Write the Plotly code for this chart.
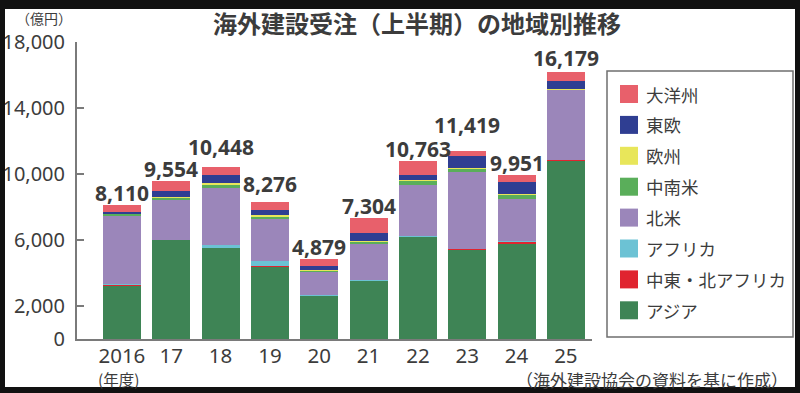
import plotly.graph_objects as go

# ---- data ----
years = ["2016", "17", "18", "19", "20", "21", "22", "23", "24", "25"]
totals = [8110, 9554, 10448, 8276, 4879, 7304, 10763, 11419, 9951, 16179]
total_labels = ["8,110", "9,554", "10,448", "8,276", "4,879", "7,304", "10,763", "11,419", "9,951", "16,179"]

asia    = [3250, 6000, 5530, 4380, 2650, 3520, 6200, 5440, 5780, 10840]
mena    = [60, 10, 10, 20, 10, 20, 20, 20, 130, 10]
africa  = [20, 20, 130, 330, 30, 40, 20, 20, 20, 10]
n_am    = [4100, 2400, 3540, 2520, 1390, 2180, 3100, 4650, 2570, 4250]
cs_am   = [150, 130, 110, 200, 80, 130, 240, 180, 280, 40]
europe  = [40, 40, 160, 60, 20, 40, 40, 30, 30, 30]
e_eur   = [100, 400, 470, 330, 270, 490, 290, 750, 690, 480]
oceania = [390, 554, 498, 436, 429, 884, 853, 329, 451, 519]

series_names = ["アジア", "中東・北アフリカ", "アフリカ", "北米", "中南米", "欧州", "東欧", "大洋州"]
series_values = [asia, mena, africa, n_am, cs_am, europe, e_eur, oceania]
series_colors = ["#3e8455", "#e0242f", "#6cc2d4", "#9b86ba", "#5aae5a", "#e8e65a", "#2f3e92", "#e8606b"]

y_ticks = [0, 2000, 6000, 10000, 14000, 18000]
y_tick_text = ["0", "2,000", "6,000", "10,000", "14,000", "18,000"]

# ---- layout geometry (pixels) ----
W, H = 800, 393
L, R, T, B = 77, 592, 42, 339


def px2x(px):
    return (px - L) / (R - L)


def py2y(py):
    return (B - py) / (B - T)


NUM_FONT = "Noto Sans, Noto Sans CJK JP, sans-serif"
JP_FONT = "Noto Sans CJK JP, Noto Sans, sans-serif"
TXT = "#3c3c3c"
AXIS = "#7a7a7a"

xs = list(range(len(years)))

fig = go.Figure()
for name, vals, col in zip(series_names, series_values, series_colors):
    fig.add_trace(go.Bar(x=xs, y=vals, name=name, marker=dict(color=col, line=dict(width=0)),
                         width=0.77, showlegend=False))

annotations = []
shapes = []

# data labels (extra vertical offsets in px for readability, as in original)
label_shift = [0, 0, 8, 6, 0, 0, 0, 14, 0, 2]
for i, (t, lab) in enumerate(zip(totals, total_labels)):
    annotations.append(dict(x=xs[i], y=t, xref="x", yref="y", text="<b>%s</b>" % lab,
                            showarrow=False, yanchor="bottom", yshift=label_shift[i] - 4,
                            font=dict(family=NUM_FONT, size=21, color=TXT)))

# title
annotations.append(dict(x=px2x(417), y=py2y(22), xref="paper", yref="paper",
                        text="<b>海外建設受注（上半期）の地域別推移</b>", showarrow=False,
                        xanchor="center", yanchor="middle",
                        font=dict(family=JP_FONT, size=24, color=TXT)))
# unit
annotations.append(dict(x=px2x(14), y=py2y(18), xref="paper", yref="paper",
                        text="（億円）", showarrow=False, xanchor="left", yanchor="middle",
                        font=dict(family=JP_FONT, size=14, color=TXT)))
# fiscal year note
annotations.append(dict(x=px2x(96), y=py2y(379), xref="paper", yref="paper",
                        text="(年度)", showarrow=False, xanchor="left", yanchor="middle",
                        font=dict(family=JP_FONT, size=15.5, color=TXT)))
# source
annotations.append(dict(x=px2x(790), y=py2y(379), xref="paper", yref="paper",
                        text="（海外建設協会の資料を基に作成）", showarrow=False,
                        xanchor="right", yanchor="middle",
                        font=dict(family=JP_FONT, size=17, color=TXT)))

# legend box
shapes.append(dict(type="rect", xref="paper", yref="paper",
                   x0=px2x(607), x1=px2x(793), y0=py2y(71), y1=py2y(337),
                   line=dict(color="#6f6f6f", width=1.5), fillcolor="white", layer="below"))
row0, row_step = 94, 30.9
for k, (name, col) in enumerate(zip(series_names[::-1], series_colors[::-1])):
    cy = row0 + k * row_step
    shapes.append(dict(type="rect", xref="paper", yref="paper",
                       x0=px2x(620), x1=px2x(638), y0=py2y(cy + 9), y1=py2y(cy - 9),
                       line=dict(width=0), fillcolor=col))
    annotations.append(dict(x=px2x(644), y=py2y(cy), xref="paper", yref="paper",
                            text=name, showarrow=False, xanchor="left", yanchor="middle",
                            font=dict(family=JP_FONT, size=17.5, color=TXT)))

# black frame around the picture
frame = [(0, 5, 0, H), (795, W, 0, H), (0, W, 0, 9), (0, W, 387, H)]
for x0, x1, y0, y1 in frame:
    shapes.append(dict(type="rect", xref="paper", yref="paper",
                       x0=px2x(x0), x1=px2x(x1), y0=py2y(y1), y1=py2y(y0),
                       line=dict(width=0), fillcolor="#111111", layer="above"))

fig.update_layout(
    width=W, height=H,
    margin=dict(l=L, r=W - R, t=T, b=H - B, pad=0, autoexpand=False),
    barmode="stack",
    paper_bgcolor="white", plot_bgcolor="white",
    showlegend=False,
    annotations=annotations, shapes=shapes,
    xaxis=dict(range=[-0.91, 9.53], tickmode="array", tickvals=xs, ticktext=years,
               automargin=False, ticklabelstandoff=-3,
               showline=True, linecolor=AXIS, linewidth=2, ticks="", showgrid=False,
               zeroline=False, tickfont=dict(family=NUM_FONT, size=20.5, color=TXT)),
    yaxis=dict(range=[0, 18000], tickmode="array", tickvals=y_ticks, ticktext=y_tick_text,
               automargin=False,
               showline=True, linecolor=AXIS, linewidth=2, ticks="inside", ticklen=7,
               tickwidth=2, tickcolor=AXIS, showgrid=False, zeroline=False,
               ticklabelstandoff=6,
               tickfont=dict(family=NUM_FONT, size=20, color=TXT)),
)

fig.write_html("out.html", config={"displayModeBar": False},
               post_script="document.body.style.margin='0px';document.body.style.overflow='hidden';")
